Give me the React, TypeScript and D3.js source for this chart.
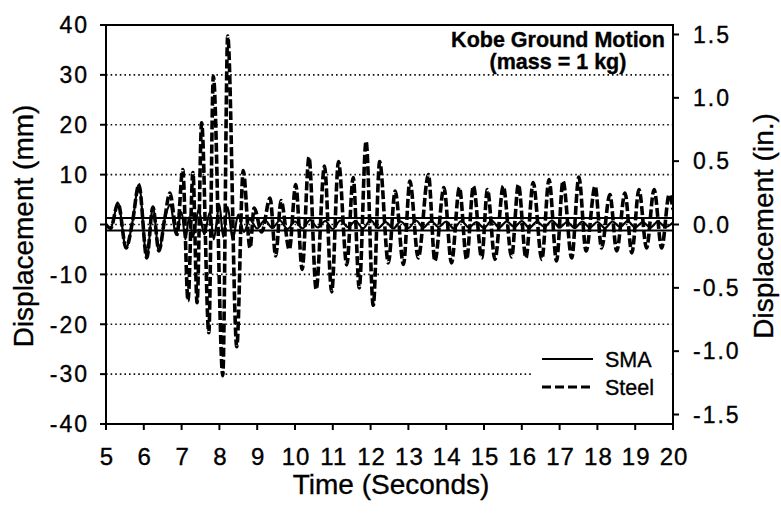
import React from "react";
import * as d3 from "d3";

// Steel-damper response: time (s) and displacement (mm) at turning points
const steelTime = [
  5.0, 5.12, 5.32, 5.53, 5.7, 5.87, 6.08, 6.24, 6.4, 6.55, 6.69, 6.88,
  7.03, 7.17, 7.3, 7.41, 7.53, 7.72, 7.84, 8.09, 8.22, 8.46, 8.63, 8.81,
  8.92, 9.12, 9.34, 9.49, 9.63, 9.85, 10.02, 10.19, 10.37, 10.56, 10.78,
  10.97, 11.15, 11.37, 11.54, 11.7, 11.88, 12.07, 12.24, 12.47, 12.65,
  12.87, 13.04, 13.26, 13.53, 13.7, 13.94, 14.14, 14.35, 14.54, 14.72,
  14.94, 15.09, 15.29, 15.51, 15.73, 15.91, 16.11, 16.3, 16.53, 16.72,
  16.92, 17.09, 17.32, 17.51, 17.7, 17.94, 18.11, 18.33, 18.51, 18.73,
  18.91, 19.1, 19.3, 19.5, 19.7, 19.9, 20.0,
];
const steelMm = [
  0, -0.8, 4.3, -4.7, 0.5, 8.0, -6.7, 3.5, -5.3, 1.0, 6.3, -2.0,
  11.0, -15.3, 10.4, -15.7, 20.4, -21.7, 29.7, -30.3, 37.8, -24.5, 10.8, -4.7,
  3.3, -1.5, 5.3, -6.3, 4.8, -5.0, 8.0, -9.0, 13.5, -13.0, 11.7,
  -13.5, 12.6, -8.1, 9.4, -12.7, 16.7, -16.2, 12.6, -7.7, 6.7,
  -8.0, 8.7, -6.7, 10.0, -7.3, 7.4, -7.7, 7.4, -7.0, 7.7,
  -6.7, 7.0, -7.0, 7.7, -6.5, 8.0, -6.7, 8.4, -7.0, 9.0,
  -7.3, 8.7, -6.7, 9.5, -5.3, 7.7, -4.7, 6.0, -5.3, 6.3,
  -5.7, 7.0, -4.7, 7.0, -4.7, 6.0, 3.0,
];

// SMA-damper response: time (s) and displacement (mm)
const smaTime = [
  5.0, 5.12, 5.32, 5.53, 5.7, 5.87, 6.08, 6.24, 6.4, 6.55, 6.7, 6.85,
  7.0, 7.1, 7.2, 7.3, 7.45, 7.6, 7.75, 7.85, 8.0, 8.1, 8.22, 8.35,
  8.5, 8.65, 8.8, 9.0, 9.2, 9.4, 9.6, 9.8, 10.0, 10.2, 10.4, 10.6,
  10.8, 11.0, 11.2, 11.4, 11.6, 11.8, 12.0, 12.2, 12.4, 12.6, 12.8,
  13.0, 13.2, 13.4, 13.6, 13.8, 14.0, 14.2, 14.4, 14.6, 14.8, 15.0,
  15.2, 15.4, 15.6, 15.8, 16.0, 16.2, 16.4, 16.6, 16.8, 17.0, 17.2,
  17.4, 17.6, 17.8, 18.0, 18.2, 18.4, 18.6, 18.8, 19.0, 19.2, 19.4,
  19.6, 19.8, 20.0,
];
const smaMm = [
  0, -0.8, 4.3, -4.7, 0.5, 8.0, -6.7, 3.5, -5.3, 1.0, 4.0, -2.0,
  2.5, -3.0, 1.5, -2.5, 3.0, -2.0, 2.5, -3.0, 4.0, -2.5, 3.5, -3.0,
  2.0, -1.5, 1.0, -0.8, 0.9, -0.7, 0.8, -0.9, 0.6, -0.8, 0.9, -0.6,
  0.7, -0.9, 0.8, -0.5, 0.7, -0.8, 0.9, -0.7, 0.5, -0.8, 0.6,
  -0.7, 0.8, -0.6, 0.7, -0.5, 0.6, -0.8, 0.7, -0.6, 0.5, -0.7,
  0.8, -0.6, 0.6, -0.5, 0.7, -0.7, 0.6, -0.5, 0.8, -0.6, 0.5,
  -0.7, 0.6, -0.6, 0.5, -0.7, 0.6, -0.5, 0.7, -0.6, 0.5, -0.6,
  0.6, -0.5, 0.4,
];

// SMA response envelope (mm)
const smaBand = [1.3, -1.2];

const xTicks = d3.range(5, 21, 1);
const yTicksMm = [40, 30, 20, 10, 0, -10, -20, -30, -40];
const gridMm = [30, 20, 10, 0, -10, -20, -30];
const yTicksIn = [1.5, 1.0, 0.5, 0.0, -0.5, -1.0, -1.5];
const MM_PER_IN = 25.4;

const W = 781;
const H = 514;
const M = { left: 106, right: 673, top: 25, bottom: 424 };
const FONT = "'Liberation Sans', Arial, Helvetica, sans-serif";

export default function App() {
  const x = d3.scaleLinear().domain([5, 20]).range([M.left, M.right]);
  const y = d3.scaleLinear().domain([-40, 40]).range([M.bottom, M.top]);
  const yIn = d3
    .scaleLinear()
    .domain([-40 / MM_PER_IN, 40 / MM_PER_IN])
    .range([M.bottom, M.top]);

  const line = d3
    .line<[number, number]>()
    .x((d) => x(d[0]))
    .y((d) => y(d[1]))
    .curve(d3.curveMonotoneX);

  const steelPath = line(steelTime.map((t, i) => [t, steelMm[i]]))!;
  const smaPath = line(smaTime.map((t, i) => [t, smaMm[i]]))!;

  const heavy = { stroke: "#000", strokeWidth: 0.35 };
  const tickFont = {
    fontFamily: FONT,
    fontSize: 23,
    letterSpacing: 2,
    fill: "#000",
    ...heavy,
  };

  return (
    <svg
      width={W}
      height={H}
      viewBox={`0 0 ${W} ${H}`}
      style={{ position: "absolute", left: 0, top: 0, background: "#fff" }}
    >
      <defs>
        <clipPath id="plot">
          <rect x={M.left} y={M.top} width={M.right - M.left} height={M.bottom - M.top} />
        </clipPath>
      </defs>
      <rect x={0} y={0} width={W} height={H} fill="#fff" />

      {/* dotted horizontal grid */}
      {gridMm.map((v) => (
        <line
          key={`g${v}`}
          x1={M.left}
          x2={M.right}
          y1={y(v)}
          y2={y(v)}
          stroke="#111"
          strokeWidth={1.6}
          strokeDasharray="1.6 3"
        />
      ))}

      <g clipPath="url(#plot)">
        <path d={smaPath} fill="none" stroke="#000" strokeWidth={2.2} strokeLinejoin="round" />
        <path
          d={steelPath}
          fill="none"
          stroke="#000"
          strokeWidth={3.6}
          strokeDasharray="9 3"
          strokeLinejoin="round"
        />
        {smaBand.map((v) => (
          <line
            key={`b${v}`}
            x1={M.left}
            x2={M.right}
            y1={y(v)}
            y2={y(v)}
            stroke="#000"
            strokeWidth={2.2}
          />
        ))}
      </g>

      {/* frame */}
      <rect
        x={M.left}
        y={M.top}
        width={M.right - M.left}
        height={M.bottom - M.top}
        fill="none"
        stroke="#000"
        strokeWidth={2}
      />

      {/* left axis */}
      {yTicksMm.map((v) => (
        <g key={`l${v}`}>
          <line x1={M.left - 6} x2={M.left} y1={y(v)} y2={y(v)} stroke="#000" strokeWidth={2} />
          <text x={M.left - 17} y={y(v)} dy="0.36em" textAnchor="end" {...tickFont}>
            {v}
          </text>
        </g>
      ))}

      {/* right axis (inches) */}
      {yTicksIn.map((v) => (
        <g key={`r${v}`}>
          <line x1={M.right} x2={M.right + 6} y1={yIn(v)} y2={yIn(v)} stroke="#000" strokeWidth={2} />
          <text x={M.right + 20} y={yIn(v)} dy="0.36em" textAnchor="start" {...tickFont}>
            {v.toFixed(1)}
          </text>
        </g>
      ))}

      {/* bottom axis */}
      {xTicks.map((v) => (
        <g key={`x${v}`}>
          <line x1={x(v)} x2={x(v)} y1={M.bottom} y2={M.bottom + 6} stroke="#000" strokeWidth={2} />
          <text x={x(v) + 1} y={465} textAnchor="middle" {...tickFont} fontSize={24} letterSpacing={1}>
            {v}
          </text>
        </g>
      ))}

      {/* axis titles */}
      <text x={391} y={494} textAnchor="middle" fontFamily={FONT} fontSize={28} fill="#000" {...heavy}>
        Time (Seconds)
      </text>
      <text
        transform={`translate(33, 226) rotate(-90)`}
        textAnchor="middle"
        fontFamily={FONT}
        fontSize={28}
        fill="#000"
        {...heavy}
      >
        Displacement (mm)
      </text>
      <text
        transform={`translate(773, 226) rotate(-90)`}
        textAnchor="middle"
        fontFamily={FONT}
        fontSize={28}
        fill="#000"
        {...heavy}
      >
        Displacement (in.)
      </text>

      {/* chart note */}
      <text x={558} y={47} textAnchor="middle" fontFamily={FONT} fontSize={21.5} fontWeight="bold" fill="#000" {...heavy}>
        Kobe Ground Motion
      </text>
      <text x={558} y={69} textAnchor="middle" fontFamily={FONT} fontSize={21.5} fontWeight="bold" fill="#000" {...heavy}>
        (mass = 1 kg)
      </text>

      {/* legend */}
      <rect x={533} y={338} width={138} height={68} fill="#fff" />
      <line x1={542} x2={593} y1={359} y2={359} stroke="#000" strokeWidth={2.2} />
      <line x1={542} x2={593} y1={387} y2={387} stroke="#000" strokeWidth={3} strokeDasharray="9 4" />
      <text x={605} y={367} fontFamily={FONT} fontSize={21.5} fill="#000" {...heavy}>
        SMA
      </text>
      <text x={605} y={395} fontFamily={FONT} fontSize={21.5} fill="#000" {...heavy}>
        Steel
      </text>
    </svg>
  );
}
